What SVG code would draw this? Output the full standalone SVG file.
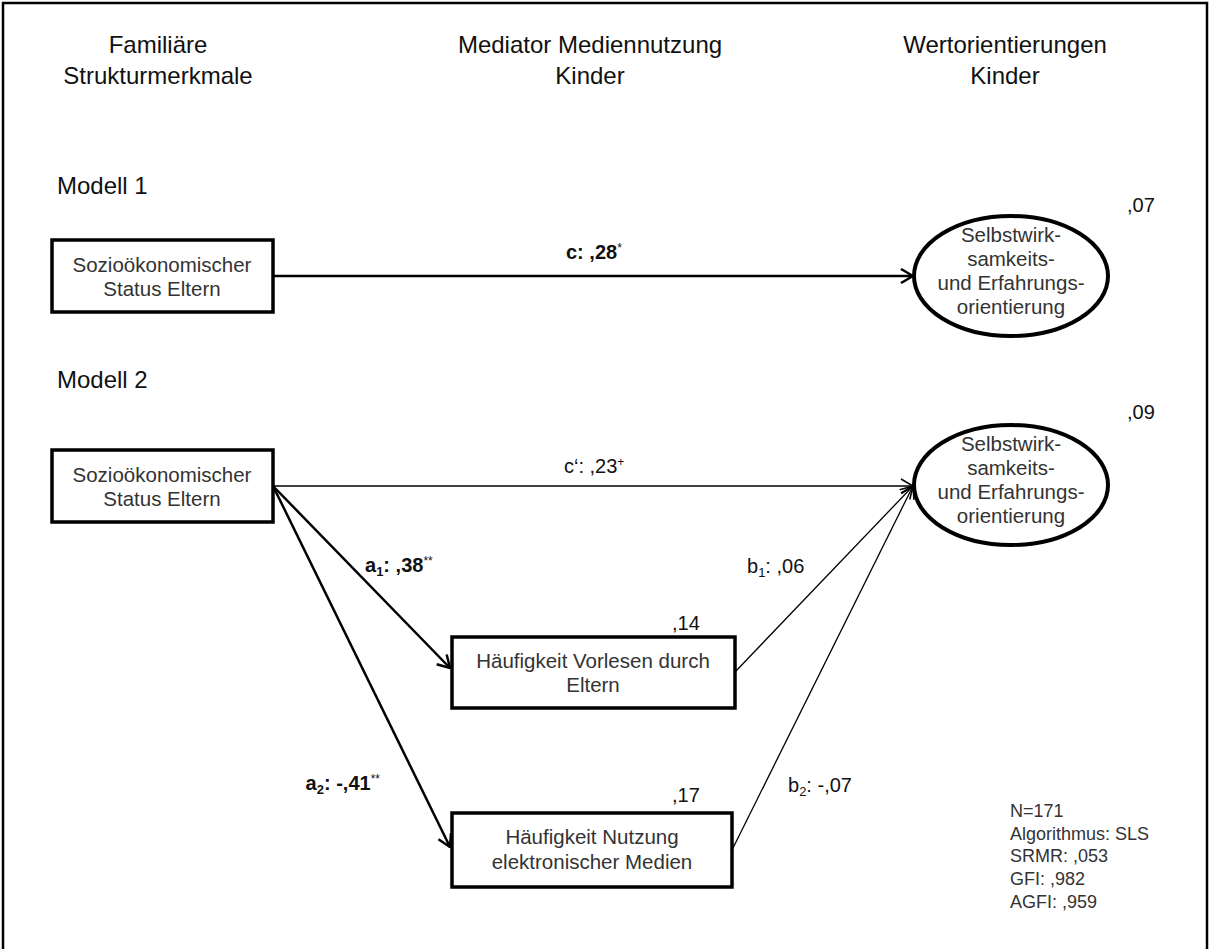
<svg xmlns="http://www.w3.org/2000/svg" width="1210" height="949" viewBox="0 0 1210 949">
<style>
text{font-family:"Liberation Sans",Arial,sans-serif}
.hd{font-size:24px;fill:#111;text-anchor:middle}
.md{font-size:24px;fill:#111}
.nt{font-size:20.5px;fill:#333;text-anchor:middle}
.lb{font-size:20px;fill:#111}
.b{font-weight:bold}
.st{font-size:18px;fill:#333}
.box{fill:#fff;stroke:#000;stroke-width:3.5}
.ell{fill:#fff;stroke:#000;stroke-width:4}
.thick{stroke:#000;stroke-width:2.5;fill:none}
.thin{stroke:#000;stroke-width:1.3;fill:none}
</style>
<defs>
<marker id="ah" viewBox="0 0 14 16" refX="13" refY="8" markerWidth="14" markerHeight="16" markerUnits="userSpaceOnUse" orient="auto">
<path d="M1,1 L13,8 L1,15" fill="none" stroke="#000" stroke-width="2.5"/>
</marker>
<marker id="ahT" viewBox="0 0 14 16" refX="13" refY="8" markerWidth="14" markerHeight="16" markerUnits="userSpaceOnUse" orient="auto">
<path d="M1,1 L13,8 L1,15" fill="none" stroke="#000" stroke-width="1.5"/>
</marker>
</defs>
<rect x="0" y="0" width="1210" height="949" fill="#fff"/>
<rect x="3" y="3" width="1204" height="980" fill="none" stroke="#000" stroke-width="2.5"/>

<g id="headers">
<text class="hd" x="158" y="53">Familiäre</text>
<text class="hd" x="158" y="84">Strukturmerkmale</text>
<text class="hd" x="590" y="53">Mediator Mediennutzung</text>
<text class="hd" x="590" y="84">Kinder</text>
<text class="hd" x="1005" y="53">Wertorientierungen</text>
<text class="hd" x="1005" y="84">Kinder</text>
<text class="md" x="57" y="194">Modell 1</text>
<text class="md" x="57" y="388">Modell 2</text>
</g>

<g id="connectors">
<line class="thick" x1="273" y1="276" x2="913" y2="276" marker-end="url(#ah)"/>
<line class="thin" x1="273" y1="486" x2="913" y2="486" marker-end="url(#ahT)"/>
<line class="thick" x1="273" y1="486" x2="450" y2="668" marker-end="url(#ah)"/>
<line class="thick" x1="273" y1="486" x2="450" y2="847" marker-end="url(#ah)"/>
<line class="thin" x1="735" y1="672" x2="913" y2="486" marker-end="url(#ahT)"/>
<line class="thin" x1="732" y1="850" x2="913" y2="486" marker-end="url(#ahT)"/>
<text class="lb b" x="566" y="259">c: ,28<tspan font-size="12" font-weight="normal" dy="-7">*</tspan></text>
<text class="lb" x="564" y="473">c‘: ,23<tspan font-size="12" dy="-7">+</tspan></text>
<text class="lb b" x="365" y="572">a<tspan font-size="13" dy="4">1</tspan><tspan dy="-4">: ,38</tspan><tspan font-size="12" font-weight="normal" dy="-7">**</tspan></text>
<text class="lb b" x="380" y="790" text-anchor="end">a<tspan font-size="13" dy="4">2</tspan><tspan dy="-4">: -,41</tspan><tspan font-size="12" font-weight="normal" dy="-7">**</tspan></text>
<text class="lb" x="747" y="573">b<tspan font-size="13" dy="4">1</tspan><tspan dy="-4">: ,06</tspan></text>
<text class="lb" x="788" y="792">b<tspan font-size="13" dy="4">2</tspan><tspan dy="-4">: -,07</tspan></text>
</g>

<g id="ses1">
<rect class="box" x="52" y="240" width="221" height="72"/>
<text class="nt" x="162" y="272">Sozioökonomischer</text>
<text class="nt" x="162" y="296">Status Eltern</text>
</g>

<g id="wert1">
<ellipse class="ell" cx="1011" cy="276" rx="97" ry="60"/>
<text class="nt" x="1011" y="242">Selbstwirk-</text>
<text class="nt" x="1011" y="266">samkeits-</text>
<text class="nt" x="1011" y="290">und Erfahrungs-</text>
<text class="nt" x="1011" y="314">orientierung</text>
<text class="lb" x="1127" y="212">,07</text>
</g>

<g id="ses2">
<rect class="box" x="52" y="450" width="221" height="72"/>
<text class="nt" x="162" y="482">Sozioökonomischer</text>
<text class="nt" x="162" y="506">Status Eltern</text>
</g>

<g id="wert2">
<ellipse class="ell" cx="1011" cy="485" rx="97" ry="60"/>
<text class="nt" x="1011" y="451">Selbstwirk-</text>
<text class="nt" x="1011" y="475">samkeits-</text>
<text class="nt" x="1011" y="499">und Erfahrungs-</text>
<text class="nt" x="1011" y="523">orientierung</text>
<text class="lb" x="1127" y="419">,09</text>
</g>

<g id="vorlesen">
<rect class="box" x="452" y="637" width="283" height="71"/>
<text class="nt" x="593" y="668">Häufigkeit Vorlesen durch</text>
<text class="nt" x="593" y="692">Eltern</text>
<text class="lb" x="672" y="630">,14</text>
</g>

<g id="medien">
<rect class="box" x="452" y="813" width="280" height="74"/>
<text class="nt" x="592" y="844">Häufigkeit Nutzung</text>
<text class="nt" x="592" y="869">elektronischer Medien</text>
<text class="lb" x="672" y="802">,17</text>
</g>

<g id="stats">
<text class="st" x="1010" y="817">N=171</text>
<text class="st" x="1010" y="840">Algorithmus: SLS</text>
<text class="st" x="1010" y="862">SRMR: ,053</text>
<text class="st" x="1010" y="885">GFI: ,982</text>
<text class="st" x="1010" y="908">AGFI: ,959</text>
</g>
</svg>
